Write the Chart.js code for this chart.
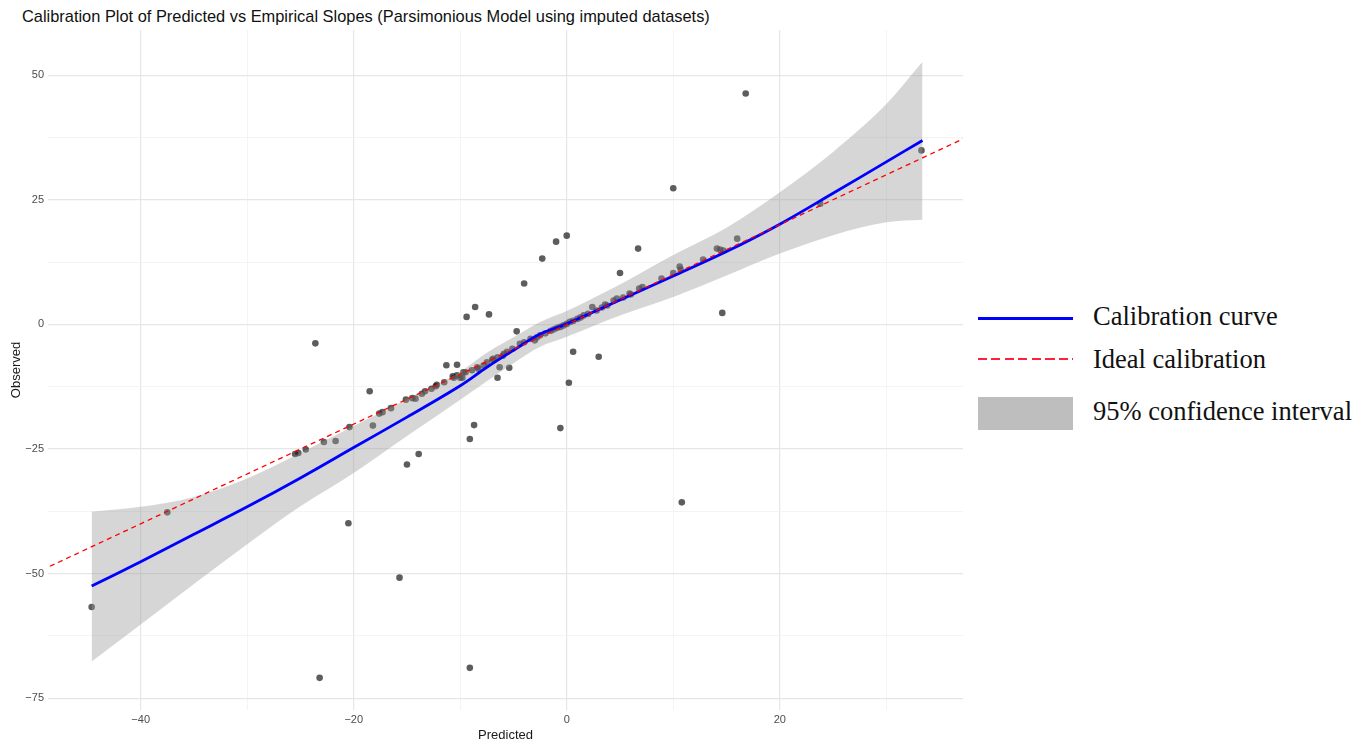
<!DOCTYPE html>
<html>
<head>
<meta charset="utf-8">
<script src="https://cdn.jsdelivr.net/npm/chart.js@4.4.1/dist/chart.umd.min.js"></script>
<style>
  html, body { margin: 0; padding: 0; background: #fff; }
  body { width: 1372px; height: 745px; position: relative; overflow: hidden; }
  #wrap { position: absolute; left: 0; top: 0; width: 975px; height: 745px; }
  .plotTitle {
    position: absolute; left: 22px; top: 7.8px;
    font: 16.4px 'Liberation Sans', Arial, sans-serif; line-height: 16.4px;
    color: #111; white-space: nowrap;
  }
  .key { position: absolute; left: 978px; width: 95px; }
  .keyLine { top: 316.5px; height: 3.5px; background: #0000ff; }
  .keyDash { top: 358.3px; height: 1.6px; background: repeating-linear-gradient(to right, #ff2040 0 9px, transparent 9px 13.5px); }
  .keyBox { top: 396.5px; height: 33.5px; background: #bebebe; }
  .legText {
    position: absolute; left: 1093px;
    font-family: 'Liberation Serif', 'Times New Roman', serif; font-size: 26.5px; line-height: 26.5px;
    color: #111; white-space: nowrap;
  }
</style>
</head>
<body>
<div class="plotTitle">Calibration Plot of Predicted vs Empirical Slopes (Parsimonious Model using imputed datasets)</div>
<div id="wrap"><canvas id="calib" width="975" height="745"></canvas></div>
<div id="legend"></div>
<script>
// axis ticks
const xGrid = [-40, -30, -20, -10, 0, 10, 20, 30];
const xLabels = [-40, -20, 0, 20];
const yGrid = [-75, -62.5, -50, -37.5, -25, -12.5, 0, 12.5, 25, 37.5, 50];
const yLabels = [-75, -50, -25, 0, 25, 50];

// observed points (predicted, observed)
const ptX = [-44.6, -37.5, -25.5, -25.2, -24.5, -23.6, -23.2, -22.8, -21.7, -20.5,
  -20.4, -18.5, -18.2, -17.6, -17.3, -16.5, -15.7, -15.1, -15.0, -14.5,
  -14.2, -13.9, -13.6, -13.3, -12.7, -12.3, -12.2, -11.5, -11.3, -10.7,
  -10.6, -10.3, -10.3, -10.0, -9.8, -9.7, -9.5, -9.4, -9.1, -9.1,
  -8.9, -8.7, -8.6, -8.4, -8.3, -7.8, -7.5, -7.3, -7.0, -6.9,
  -6.5, -6.5, -6.3, -6.0, -5.9, -5.6, -5.4, -5.1, -4.7, -4.4,
  -4.0, -4.0, -3.4, -3.0, -2.8, -2.5, -2.3, -2.0, -1.5, -1.2,
  -1.0, -0.9, -0.6, -0.6, -0.3, 0.0, 0.0, 0.2, 0.3, 0.6,
  0.6, 1.0, 1.3, 1.6, 2.0, 2.4, 2.8, 3.0, 3.3, 3.6,
  3.8, 4.4, 4.7, 5.0, 5.3, 5.9, 6.0, 6.7, 6.8, 7.1,
  8.9, 10.0, 10.0, 10.6, 10.7, 10.8, 12.8, 14.1, 14.4, 14.6,
  14.7, 16.0, 16.8, 23.8, 33.3];
const ptY = [-56.7, -37.7, -26.0, -25.8, -25.1, -3.8, -70.9, -23.6, -23.4, -39.9,
  -20.6, -13.4, -20.3, -17.9, -17.6, -16.8, -50.8, -15.1, -28.1, -14.8,
  -14.9, -26.0, -13.9, -13.4, -12.9, -12.4, -12.1, -11.6, -8.2, -10.4,
  -10.7, -8.1, -10.2, -10.7, -10.7, -9.6, -9.6, 1.5, -23.0, -68.9,
  -9.2, -20.2, 3.5, -8.6, -8.9, -8.2, -7.6, 2.0, -7.1, -6.9,
  -10.7, -6.6, -8.6, -6.3, -5.9, -5.5, -8.7, -4.9, -1.4, -3.9,
  8.2, -3.6, -2.9, -3.2, -2.6, -2.2, 13.2, -1.8, -1.3, -1.0,
  16.6, -0.7, -20.8, -0.5, -0.2, 17.8, 0.1, -11.7, 0.5, -5.5,
  0.7, 1.1, 1.4, 1.8, 2.1, 3.5, 2.8, -6.5, 3.4, 4.0,
  3.8, 4.8, 5.2, 10.3, 5.4, 6.2, 6.0, 15.2, 7.2, 7.5,
  9.2, 27.3, 10.3, 11.6, 11.0, -35.7, 13.0, 15.2, 15.0, 2.3,
  14.8, 17.2, 46.3, 24.2, 34.9];

// calibration curve and its 95% band
const fitX = [-44.6, -40, -35, -30, -25, -20, -15, -10, -7.5, -5, -2.5, 0, 2.5, 5, 10, 15, 20, 25, 30, 33.4];
const fitY = [-52.5, -47.6, -42.1, -36.6, -30.8, -24.7, -18.6, -12.3, -8.6, -5.2, -1.95, 0.1, 2.5, 4.9, 9.7, 14.6, 20.1, 26.3, 32.6, 36.9];
const ciUpper = [-37.6, -36.6, -34.6, -30.9, -25.8, -20.4, -15.0, -9.5, -5.7, -2.6, 0.5, 2.7, 5.3, 8.0, 13.9, 19.4, 26.5, 34.6, 44.2, 52.7];
const ciLower = [-67.6, -60.2, -52.1, -44.1, -36.5, -29.8, -22.4, -15.1, -11.4, -7.8, -4.5, -2.5, -0.3, 1.8, 5.5, 9.8, 14.2, 17.9, 20.5, 21.0];

// ideal y = x line
const idealX = [-60, 60];

const toXY = (xs, ys) => xs.map((x, i) => ({ x: x, y: ys[i] }));
const minus = v => String(v).replace('-', '\u2212');
const tickFont = { family: "'Liberation Sans', Arial, sans-serif", size: 11 };
const titleFont = { family: "'Liberation Sans', Arial, sans-serif", size: 13 };

const calibCanvas = document.getElementById('calib');

const chartCalib = new Chart(calibCanvas, {
  type: 'line',
  data: {
    datasets: [
      {
        label: 'points',
        type: 'scatter',
        data: toXY(ptX, ptY),
        backgroundColor: 'rgba(30, 30, 30, 0.72)',
        borderWidth: 0,
        pointRadius: 3.3,
        order: 5
      },
      {
        label: '95% confidence interval',
        legendKey: 'keyBox',
        data: toXY(fitX, ciUpper),
        borderWidth: 0,
        pointRadius: 0,
        cubicInterpolationMode: 'monotone',
        backgroundColor: 'rgba(153, 153, 153, 0.4)',
        fill: '+1',
        order: 4
      },
      {
        label: 'lower',
        data: toXY(fitX, ciLower),
        borderWidth: 0,
        pointRadius: 0,
        cubicInterpolationMode: 'monotone',
        fill: false,
        order: 4
      },
      {
        label: 'Calibration curve',
        legendKey: 'keyLine',
        data: toXY(fitX, fitY),
        borderColor: '#0000ff',
        borderWidth: 2.8,
        pointRadius: 0,
        tension: 0.35,
        fill: false,
        order: 2
      },
      {
        label: 'Ideal calibration',
        legendKey: 'keyDash',
        data: toXY(idealX, idealX),
        borderColor: '#ff0000',
        borderWidth: 1.3,
        borderDash: [5, 4],
        pointRadius: 0,
        fill: false,
        order: 1
      }
    ]
  },
  options: {
    responsive: false,
    animation: false,
    layout: { padding: { top: 30, right: 12, left: 0, bottom: 0 } },
    plugins: {
      legend: { display: false },
      tooltip: { enabled: false }
    },
    scales: {
      x: {
        type: 'linear',
        min: -48.7,
        max: 37.2,
        afterFit: scale => { scale.height = 35; },
        afterBuildTicks: scale => { scale.ticks = xGrid.map(v => ({ value: v })); },
        ticks: {
          autoSkip: false,
          maxRotation: 0,
          padding: 3,
          color: '#4d4d4d',
          font: tickFont,
          callback: v => (xLabels.includes(v) ? minus(v) : '')
        },
        grid: {
          drawTicks: false,
          color: c => (xLabels.includes(c.tick.value) ? '#e6e6e6' : '#f1f1f1'),
          lineWidth: c => (xLabels.includes(c.tick.value) ? 1.2 : 0.8)
        },
        border: { display: false },
        title: {
          display: true,
          text: 'Predicted',
          color: '#1a1a1a',
          font: titleFont,
          padding: { top: 0, bottom: 2 }
        }
      },
      y: {
        type: 'linear',
        min: -77.35,
        max: 59.05,
        afterFit: scale => { scale.width = 48; },
        afterBuildTicks: scale => { scale.ticks = yGrid.map(v => ({ value: v })); },
        ticks: {
          autoSkip: false,
          padding: 4,
          color: '#4d4d4d',
          font: tickFont,
          callback: v => (yLabels.includes(v) ? minus(v) : '')
        },
        grid: {
          drawTicks: false,
          color: c => (yLabels.includes(c.tick.value) ? '#e6e6e6' : '#f1f1f1'),
          lineWidth: c => (yLabels.includes(c.tick.value) ? 1.2 : 0.8)
        },
        border: { display: false },
        title: {
          display: true,
          text: 'Observed',
          color: '#1a1a1a',
          font: titleFont,
          padding: { top: 9, bottom: 0 }
        }
      }
    }
  }
});

// legend on the right, built from the datasets
const legendTops = { keyLine: 302.8, keyDash: 345.8, keyBox: 397.8 };
const legendBox = document.getElementById('legend');
chartCalib.data.datasets
  .filter(ds => ds.legendKey)
  .sort((a, b) => legendTops[a.legendKey] - legendTops[b.legendKey])
  .forEach(ds => {
    const key = document.createElement('div');
    key.className = 'key ' + ds.legendKey;
    legendBox.appendChild(key);
    const txt = document.createElement('div');
    txt.className = 'legText';
    txt.style.top = legendTops[ds.legendKey] + 'px';
    txt.textContent = ds.label;
    legendBox.appendChild(txt);
  });
</script>
</body>
</html>
